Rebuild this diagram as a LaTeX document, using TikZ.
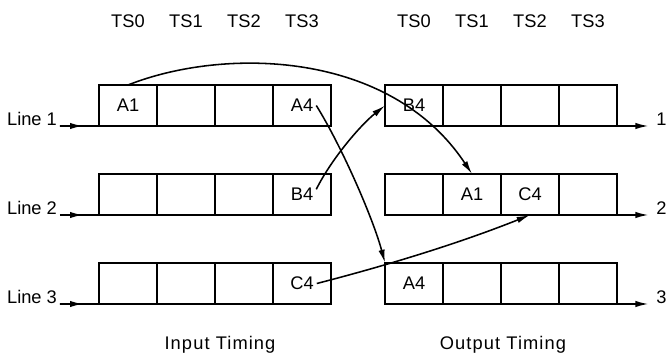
\documentclass[tikz,border=0pt]{standalone}
\usepackage{fontspec}
\setmainfont{Liberation Sans}
\newfontfamily\widefont{Liberation Sans}[LetterSpace=6]
\usetikzlibrary{arrows.meta,decorations.markings}

\tikzset{
    slot/.style={draw, line width=1.3pt, minimum width=1.45cm, minimum height=1.025cm, inner sep=0pt, outer sep=0pt},
    lbl/.style={font=\fontsize{13}{15}\selectfont, inner sep=2pt},
    move/.style={line width=1.1pt, -{Latex[length=9.5pt,width=4.5pt]}},
    feedin/.style={line width=1.3pt, postaction={decorate},
        decoration={markings, mark=at position 0.6 with {\arrow{Latex[length=9.5pt,width=4.5pt]}}}},
    feedout/.style={line width=1.3pt, -{Latex[length=9.5pt,width=4.5pt]}}
}

\begin{document}
\begin{tikzpicture}
        \useasboundingbox (0,0) rectangle (16.775,8.925);

        %%%%%%%%% Caselle %%%%%%%%%
        \foreach \r/\y in {1/6.2875,2/4.0625,3/1.8375}
            \foreach \c in {1,...,4} {
                \node[slot] (in\r\c) at ({2.475+1.45*(\c-0.5)},\y) {};
                \node[slot] (out\r\c) at ({9.625+1.45*(\c-0.5)},\y) {};
            }

        %%%%%%%%% Contenuto %%%%%%%%
        \node[lbl] (ia1) at (in11) {A1};
        \node[lbl] (ia4) at (in14) {A4};
        \node[lbl] (ib4) at (in24) {B4};
        \node[lbl] (ic4) at (in34) {C4};
        \node[lbl] (ob4) at (out11) {B4};
        \node[lbl] (oa1) at (out22) {A1};
        \node[lbl] (oc4) at (out23) {C4};
        \node[lbl] (oa4) at (out31) {A4};

        %%%%%%%%% Time slot %%%%%%%%
        \foreach \c/\t in {1/0,2/1,3/2,4/3} {
            \node[lbl, anchor=base] (its\c) at ({2.475+1.45*(\c-0.5)},8.225) {TS\t};
            \node[lbl, anchor=base] (ots\c) at ({9.625+1.45*(\c-0.5)},8.225) {TS\t};
        }

        %%%%%%%%%% Linee %%%%%%%%%%%
        \foreach \r/\y in {1/5.775,2/3.55,3/1.325} {
            \node[lbl, anchor=base west] (line\r) at (0.1,\y) {Line \r};
            \draw[feedin] (line\r.base east) -- (in\r1.south west);
            \coordinate (end\r) at (16.22,\y);
            \draw[feedout] (out\r4.south east) -- (end\r);
            \node[lbl, anchor=base west] (num\r) at (16.33,\y) {\r};
        }

        %%%%%%%% Scambi %%%%%%%%%
        \draw[move] (in11.north) .. controls +(2.4,0.95) and +(-2.05,3.1) .. (out22.north);
        \draw[move] (ia4.east) .. controls +(0.625,-1.0) and +(-0.3,1.125) .. (out31.north west);
        \draw[move] (ib4.20) .. controls +(0.375,0.75) and +(-0.625,-0.5) .. (out11.west);
        \draw[move] (ic4.east) .. controls +(1.75,0.45) and +(-1.75,-0.7) .. (out23.south);

        %%%%%%%% Legenda %%%%%%%%%
        \node[lbl, font=\widefont\fontsize{13}{15}\selectfont, anchor=base] (intime) at (5.5,0.175) {Input Timing};
        \node[lbl, font=\widefont\fontsize{13}{15}\selectfont, anchor=base] (outtime) at (12.575,0.175) {Output Timing};
    \end{tikzpicture}
\end{document}
